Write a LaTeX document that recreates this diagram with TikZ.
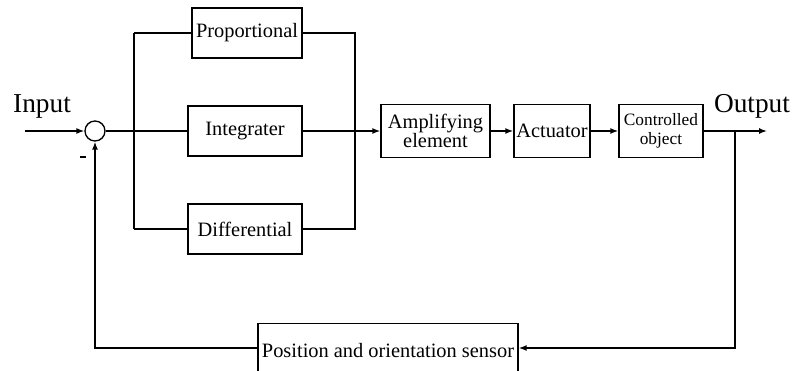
\documentclass[tikz,border=0pt]{standalone}
\usepackage{fontspec}
\setmainfont{Liberation Serif}
\usetikzlibrary{arrows.meta,calc}
\begin{document}
\begin{tikzpicture}[x=0.75pt,y=-0.75pt,
  line width=1.1pt,
  blk/.style={draw,line width=1.1pt,inner sep=0pt,align=center,font=\fontsize{15.3}{15}\selectfont},
  arr/.style={-{Latex[length=6pt,width=4.5pt]}},
  lbl/.style={font=\fontsize{20.5}{20}\selectfont,inner sep=0pt}]
\useasboundingbox (0,0) rectangle (794,371);
% summing junction
\node[draw,circle,minimum size=20*0.75pt,inner sep=0pt,line width=1pt] (sum) at (95,131) {};
\coordinate (in) at (25,131);
\node[lbl] (inlbl) at (42,106) {Input};
\node[fill,draw=none,inner sep=0pt,minimum width=5.2pt,minimum height=2pt] (minus) at (83,157) {};
% PID blocks
\node[blk,minimum width=110*0.75pt,minimum height=50*0.75pt] (P) at (247,33) {Proportional};
\node[blk,minimum width=114*0.75pt,minimum height=50*0.75pt] (I) at (245,131) {Integrater};
\node[blk,minimum width=114*0.75pt,minimum height=50*0.75pt] (D) at (245,229) {Differential};
% chain
\node[blk,minimum width=109*0.75pt,minimum height=53*0.75pt,font=\fontsize{15.3}{14}\selectfont] (A) at (435.5,131) {Amplifying\\element};
\node[blk,minimum width=76*0.75pt,minimum height=53*0.75pt] (Act) at (552,131) {Actuator};
\node[blk,minimum width=84*0.75pt,minimum height=53*0.75pt,font=\fontsize{13}{14}\selectfont] (C) at (661,131) {Controlled\\object};
\node[blk,minimum width=260*0.75pt,minimum height=54*0.75pt,anchor=north] (S) at (388,323) {Position and orientation sensor};
\node[lbl] (outlbl) at (752,106) {Output};
% junction coordinates
\coordinate (jl) at (134,131);
\coordinate (jlt) at (134,33);
\coordinate (jlb) at (134,229);
\coordinate (jrt) at (355,33);
\coordinate (jrb) at (355,229);
\coordinate (jo) at (735,131);
\coordinate (out) at (767,131);
\coordinate (fbr) at (735,348);
\coordinate (fbl) at (95,348);
% connectors
\draw[arr] (in) -- (sum.west);
\draw (sum.east) -- (jl);
\draw (jlt) -- (jlb);
\draw (jlt) -- (P.west);
\draw (jl) -- (I.west);
\draw (jlb) -- (D.west);
\draw (P.east) -- (jrt) -- (jrb) -- (D.east);
\draw[arr] (I.east) -- (A.west);
\draw[arr] (A.east) -- (Act.west);
\draw[arr] (Act.east) -- (C.west);
\draw[arr] (C.east) -- (out);
\draw[arr] (jo) -- (fbr) -- (S.east |- fbr);
\draw[arr] (S.west |- fbl) -- (fbl) -- (sum.south);
\end{tikzpicture}
\end{document}
